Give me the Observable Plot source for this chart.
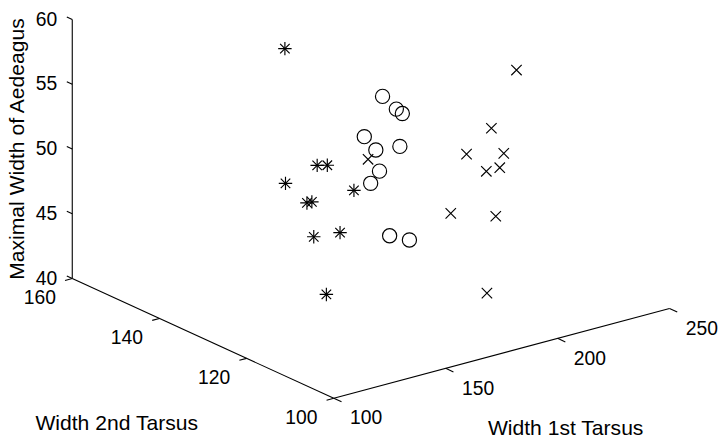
<!DOCTYPE html>
<html>
<head>
<meta charset="utf-8">
<script src="https://cdn.jsdelivr.net/npm/d3@7"></script>
<script src="https://cdn.jsdelivr.net/npm/@observablehq/plot@0.6"></script>
<style>
  html, body { margin: 0; padding: 0; background: #fff; }
  #chart svg { display: block; }
</style>
</head>
<body>
<div id="chart"></div>
<script>
// Flea beetles (Lubischew): first ten specimens of each species.
// tars1 = width of 1st tarsus, tars2 = width of 2nd tarsus, aede = maximal width
const concinnaTars1 = [191, 185, 200, 173, 171, 160, 188, 186, 174, 163];
const concinnaTars2 = [131, 134, 137, 127, 128, 118, 134, 129, 131, 115];
const concinnaAede  = [53, 50, 52, 50, 49, 47, 54, 51, 52, 47];

const heikertTars1 = [186, 211, 201, 242, 184, 211, 217, 223, 208, 199];
const heikertTars2 = [107, 122, 144, 131, 108, 118, 122, 127, 125, 124];
const heikertAede  = [49, 49, 47, 54, 43, 51, 49, 51, 50, 46];

const heptapotTars1 = [158, 146, 151, 122, 138, 132, 131, 135, 125, 130];
const heptapotTars2 = [141, 119, 130, 113, 121, 115, 127, 123, 119, 120];
const heptapotAede  = [58, 51, 51, 45, 53, 49, 51, 50, 51, 48];

// Axis ticks
const tars1Ticks = [100, 150, 200, 250];
const tars2Ticks = [100, 120, 140, 160];
const aedeTicks  = [40, 45, 50, 55, 60];

const tars1Title = "Width 1st Tarsus";
const tars2Title = "Width 2nd Tarsus";
const aedeTitle  = "Maximal Width of Aedeagus";

// ---- orthographic 3-D view -------------------------------------------------
const deg = Math.PI / 180;
const azimuth = 37.4 * deg;
const elevation = 20.5 * deg;
const boxEdge = {t1: 422.6, t2: 430.6, w: 276.5}; // projected length of each box edge

const t1Lim = d3.extent(tars1Ticks);
const t2Lim = d3.extent(tars2Ticks);
const wLim  = d3.extent(aedeTicks);

function project(t1, t2, w) {
  const X = (t1 - t1Lim[0]) / (t1Lim[1] - t1Lim[0]) * boxEdge.t1;
  const Y = (t2 - t2Lim[0]) / (t2Lim[1] - t2Lim[0]) * boxEdge.t2;
  const Z = (w - wLim[0]) / (wLim[1] - wLim[0]) * boxEdge.w;
  return {
    x: X * Math.cos(azimuth) - Y * Math.sin(azimuth),
    y: (X * Math.sin(azimuth) + Y * Math.cos(azimuth)) * Math.sin(elevation) + Z * Math.cos(elevation)
  };
}

function unit(a, b) {
  const dx = b.x - a.x, dy = b.y - a.y, n = Math.hypot(dx, dy);
  return {x: dx / n, y: dy / n};
}

const origin = project(t1Lim[0], t2Lim[0], wLim[0]);
const dirT1 = unit(origin, project(t1Lim[0] + 1, t2Lim[0], wLim[0]));
const dirT2 = unit(origin, project(t1Lim[0], t2Lim[0] + 1, wLim[0]));

function rows(t1s, t2s, ws) {
  return t1s.map((t1, i) => ({t1, t2: t2s[i], w: ws[i], ...project(t1, t2s[i], ws[i])}));
}

const concinna = rows(concinnaTars1, concinnaTars2, concinnaAede);
const heikert  = rows(heikertTars1, heikertTars2, heikertAede);
const heptapot = rows(heptapotTars1, heptapotTars2, heptapotAede);

// Axis lines, placed on the outer edges of the box
const axes = [
  [project(t1Lim[0], t2Lim[0], wLim[0]), project(t1Lim[1], t2Lim[0], wLim[0])],
  [project(t1Lim[0], t2Lim[0], wLim[0]), project(t1Lim[0], t2Lim[1], wLim[0])],
  [project(t1Lim[0], t2Lim[1], wLim[0]), project(t1Lim[0], t2Lim[1], wLim[1])]
].map(([a, b]) => ({x1: a.x, y1: a.y, x2: b.x, y2: b.y}));

function tickRows(values, at, dir, len) {
  return values.map((v) => {
    const p = at(v);
    return {label: String(v), x1: p.x, y1: p.y, x2: p.x + dir.x * len, y2: p.y + dir.y * len};
  });
}

const t1TickRows = tickRows(tars1Ticks, (v) => project(v, t2Lim[0], wLim[0]), {x: -dirT2.x, y: -dirT2.y}, 8.5);
const t2TickRows = tickRows(tars2Ticks, (v) => project(t1Lim[0], v, wLim[0]), {x: -dirT1.x, y: -dirT1.y}, 7.5);
const wTickRows  = tickRows(aedeTicks,  (v) => project(t1Lim[0], t2Lim[1], v), dirT2, 6);

const t1Mid = project((t1Lim[0] + t1Lim[1]) / 2, t2Lim[0], wLim[0]);
const t2Mid = project(t1Lim[0], (t2Lim[0] + t2Lim[1]) / 2, wLim[0]);
const wMid  = project(t1Lim[0], t2Lim[1], (wLim[0] + wLim[1]) / 2);

// The view plane is mapped 1:1 onto the 720x440 frame
const W = 720, H = 440;
const xLeft = origin.x - 333.3;
const yBottom = origin.y - 42.2;

const font = "'Liberation Sans', Arial, Helvetica, sans-serif";
const tickFont = 19.3;
const titleFont = 21.1;
const ink = "#000";
const markerStroke = 1.15;

const chart = Plot.plot({
  width: W,
  height: H,
  margin: 0,
  style: {background: "#fff", fontFamily: font, color: ink, overflow: "visible"},
  x: {domain: [xLeft, xLeft + W], axis: null},
  y: {domain: [yBottom, yBottom + H], axis: null},
  marks: [
    Plot.link(axes, {x1: "x1", y1: "y1", x2: "x2", y2: "y2", stroke: ink, strokeWidth: 1.1}),
    Plot.link([...t1TickRows, ...t2TickRows, ...wTickRows], {x1: "x1", y1: "y1", x2: "x2", y2: "y2", stroke: ink, strokeWidth: 1.1}),

    Plot.text(t1TickRows, {x: "x1", y: "y1", text: "label", dx: 32.3, dy: 20, fontSize: tickFont, fill: ink}),
    Plot.text(t2TickRows, {x: "x1", y: "y1", text: "label", dx: -32.5, dy: 19.3, fontSize: tickFont, fill: ink}),
    Plot.text(wTickRows,  {x: "x1", y: "y1", text: "label", dx: -15, dy: 0, textAnchor: "end", fontSize: tickFont, fill: ink}),

    Plot.text([tars1Title], {x: t1Mid.x, y: t1Mid.y, text: (d) => d, dx: 64, dy: 74.8, fontSize: titleFont, fill: ink}),
    Plot.text([tars2Title], {x: t2Mid.x, y: t2Mid.y, text: (d) => d, dx: -86.3, dy: 84.8, fontSize: titleFont, fill: ink}),
    Plot.text([aedeTitle],  {x: wMid.x, y: wMid.y, text: (d) => d, dx: -55, dy: 0, rotate: -90, fontSize: titleFont, fill: ink}),

    // Heptapot.: asterisks (plus + times)
    Plot.dot(heptapot, {x: "x", y: "y", symbol: "plus", r: 4.4, stroke: ink, fill: "none", strokeWidth: markerStroke}),
    Plot.dot(heptapot, {x: "x", y: "y", symbol: "times", r: 4.4, stroke: ink, fill: "none", strokeWidth: markerStroke}),
    // Concinna: circles
    Plot.dot(concinna, {x: "x", y: "y", symbol: "circle", r: 7.1, stroke: ink, fill: "none", strokeWidth: markerStroke}),
    // Heikert.: crosses
    Plot.dot(heikert, {x: "x", y: "y", symbol: "times", r: 4.8, stroke: ink, fill: "none", strokeWidth: markerStroke})
  ]
});

document.getElementById("chart").appendChild(chart);
</script>
</body>
</html>
